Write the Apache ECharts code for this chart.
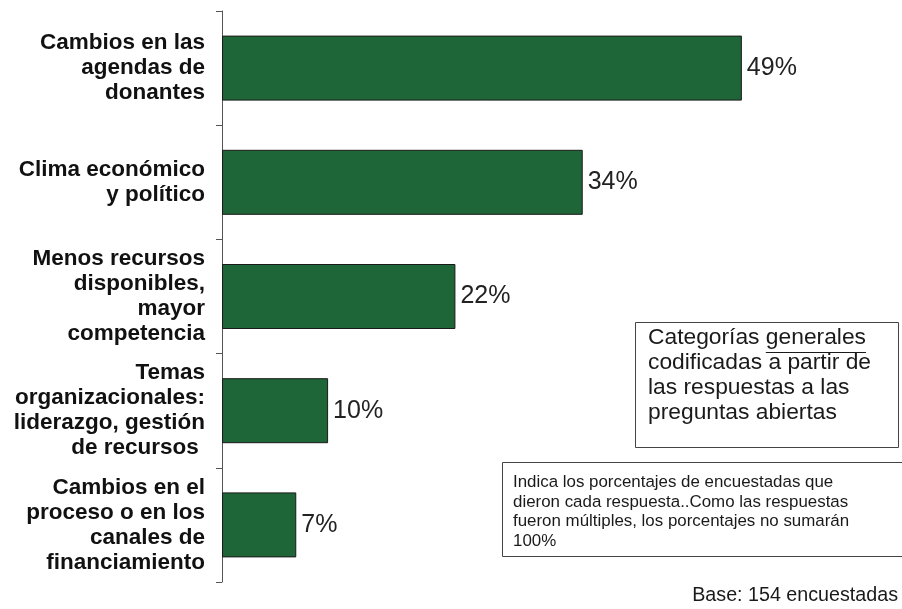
<!DOCTYPE html>
<html>
<head>
<meta charset="utf-8">
<script src="https://cdn.jsdelivr.net/npm/echarts@6/dist/echarts.min.js"></script>
<style>html,body{margin:0;padding:0;background:#fff}#c{width:902px;height:609px}</style>
</head>
<body>
<div id="c"></div>
<script>
const categories = [
  "Cambios en las\nagendas de\ndonantes",
  "Clima económico\ny político",
  "Menos recursos\ndisponibles,\nmayor\ncompetencia",
  "Temas\norganizacionales:\nliderazgo, gestión\nde recursos ",
  "Cambios en el\nproceso o en los\ncanales de\nfinanciamiento"
];
const values = [49, 34, 22, 10, 7];
const noteMain = "Categorías generales\ncodificadas a partir de\nlas respuestas a las\npreguntas abiertas";
const notePrefix = "Categorías ";
const noteUnderlined = "generales";
const noteSmall = "Indica los porcentajes de encuestadas que\ndieron cada respuesta..Como las respuestas\nfueron múltiples, los porcentajes no sumarán\n100%";
const baseText = "Base: 154 encuestadas";

const FONT = '"Liberation Sans", Arial, Helvetica, sans-serif';
const mainFont = '22.8px ' + FONT;
const mctx = document.createElement('canvas').getContext('2d');
mctx.font = mainFont;
const ulStart = 648 + mctx.measureText(notePrefix).width;
const ulEnd = ulStart + mctx.measureText(noteUnderlined).width;

const chart = echarts.init(document.getElementById('c'));
chart.setOption({
  animation: false,
  grid: { left: 222, right: 1, top: 11, bottom: 27, containLabel: false },
  xAxis: { type: 'value', min: 0, max: 64, show: false },
  yAxis: {
    type: 'category', data: categories, inverse: true, boundaryGap: true,
    axisLine: { show: true, lineStyle: { color: '#555', width: 1 } },
    axisTick: { show: true, length: 6, alignWithLabel: false, lineStyle: { color: '#555' } },
    axisLabel: {
      margin: 17, align: 'right', color: '#111', fontFamily: FONT,
      fontWeight: 'bold', fontSize: 22.5, lineHeight: 25
    },
    splitLine: { show: false }
  },
  series: [{
    type: 'bar', data: values, barWidth: 65,
    itemStyle: { color: '#1e6538', borderColor: '#1a1a1a', borderWidth: 1 },
    label: {
      show: true, position: 'right', distance: 5, formatter: '{c}%',
      fontFamily: FONT, fontSize: 25, color: '#222'
    }
  }],
  graphic: [
    { type: 'rect', shape: { x: 635.5, y: 322.5, width: 263, height: 125 },
      style: { fill: '#fff', stroke: '#444', lineWidth: 1 } },
    { type: 'text', x: 648, y: 325.5,
      style: { text: noteMain, font: mainFont, fill: '#1a1a1a', lineHeight: 25, textVerticalAlign: 'top' } },
    { type: 'line', shape: { x1: ulStart, y1: 352.5, x2: ulEnd, y2: 352.5 },
      style: { stroke: '#1a1a1a', lineWidth: 1 } },
    { type: 'rect', shape: { x: 502.5, y: 462.5, width: 410, height: 94 },
      style: { fill: '#fff', stroke: '#444', lineWidth: 1 } },
    { type: 'text', x: 513, y: 473,
      style: { text: noteSmall, font: '16.9px ' + FONT, fill: '#1a1a1a', lineHeight: 19.5, textVerticalAlign: 'top' } },
    { type: 'text', x: 898, y: 596,
      style: { text: baseText, font: '19.7px ' + FONT, fill: '#1a1a1a', textAlign: 'right', textVerticalAlign: 'middle' } }
  ]
});
</script>
</body>
</html>
